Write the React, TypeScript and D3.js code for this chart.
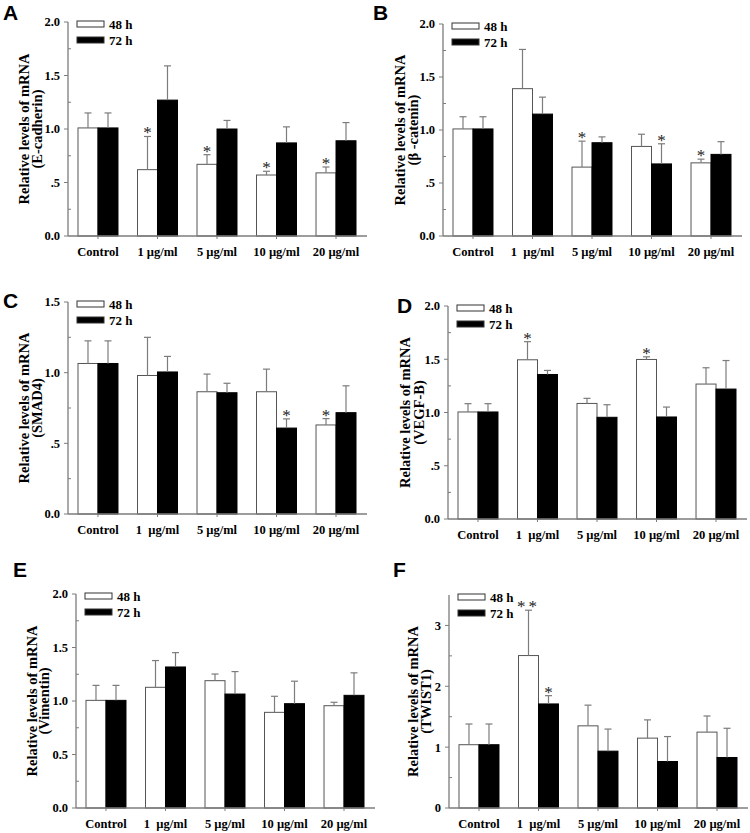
import React from 'react';
import * as d3 from 'd3';

// categories and series
const categoriesA = ['Control', '1 µg/ml', '5 µg/ml', '10 µg/ml', '20 µg/ml'];
const categoriesB = ['Control', '1\u00a0 µg/ml', '5 µg/ml', '10 µg/ml', '20 µg/ml'];
const seriesNames = ['48 h', '72 h'];

// A: E-cadherin
const eCad48 = [1.01, 0.62, 0.67, 0.57, 0.59];
const eCad48Err = [0.14, 0.31, 0.09, 0.035, 0.055];
const eCad72 = [1.01, 1.27, 1.0, 0.87, 0.89];
const eCad72Err = [0.14, 0.32, 0.08, 0.15, 0.17];
const eCad48Sig = ['', '*', '*', '*', '*'];
const eCad72Sig = ['', '', '', '', ''];

// B: beta-catenin
const bCat48 = [1.01, 1.39, 0.65, 0.845, 0.69];
const bCat48Err = [0.115, 0.37, 0.245, 0.115, 0.035];
const bCat72 = [1.01, 1.15, 0.88, 0.68, 0.77];
const bCat72Err = [0.115, 0.16, 0.055, 0.19, 0.12];
const bCat48Sig = ['', '', '*', '', '*'];
const bCat72Sig = ['', '', '', '*', ''];

// C: SMAD4
const smad48 = [1.065, 0.98, 0.865, 0.865, 0.63];
const smad48Err = [0.16, 0.27, 0.125, 0.16, 0.045];
const smad72 = [1.065, 1.005, 0.858, 0.608, 0.717];
const smad72Err = [0.16, 0.11, 0.067, 0.065, 0.19];
const smad48Sig = ['', '', '', '', '*'];
const smad72Sig = ['', '', '', '*', ''];

// D: VEGF-B
const vegf48 = [1.005, 1.495, 1.085, 1.498, 1.267];
const vegf48Err = [0.078, 0.17, 0.048, 0.025, 0.153];
const vegf72 = [1.005, 1.357, 0.955, 0.958, 1.22];
const vegf72Err = [0.078, 0.038, 0.118, 0.093, 0.268];
const vegf48Sig = ['', '*', '', '*', ''];
const vegf72Sig = ['', '', '', '', ''];

// E: Vimentin
const vim48 = [1.006, 1.128, 1.19, 0.894, 0.956];
const vim48Err = [0.14, 0.25, 0.062, 0.15, 0.032];
const vim72 = [1.006, 1.318, 1.065, 0.975, 1.053];
const vim72Err = [0.14, 0.134, 0.21, 0.21, 0.21];
const vim48Sig = ['', '', '', '', ''];
const vim72Sig = ['', '', '', '', ''];

// F: TWIST1
const twist48 = [1.04, 2.505, 1.35, 1.148, 1.247];
const twist48Err = [0.34, 0.745, 0.34, 0.3, 0.265];
const twist72 = [1.04, 1.71, 0.934, 0.764, 0.83];
const twist72Err = [0.34, 0.136, 0.363, 0.41, 0.48];
const twist48Sig = ['', '**', '', '', ''];
const twist72Sig = ['', '*', '', '', ''];

// y axis ticks
const ticks2 = [0, 0.5, 1, 1.5, 2];
const ticks2Labels = ['0.0', '.5', '1.0', '1.5', '2.0'];
const ticks2LabelsE = ['0.0', '0.5', '1.0', '1.5', '2.0'];
const minor2 = [0.25, 0.75, 1.25, 1.75];
const ticks15 = [0, 0.5, 1, 1.5];
const ticks15Labels = ['0.0', '.5', '1.0', '1.5'];
const minor15 = [0.25, 0.75, 1.25];
const ticks35 = [0, 1, 2, 3];
const ticks35Labels = ['0', '1', '2', '3'];
const minor35 = [0.5, 1.5, 2.5];

const SERIF = '"Liberation Serif", "Times New Roman", serif';
const SANS = '"Liberation Sans", Arial, sans-serif';
const GREY = '#7c7c7c';

interface PanelDef {
    letter: string;
    gene: string;
    cats: string[];
    v48: number[];
    e48: number[];
    v72: number[];
    e72: number[];
    s48: string[];
    s72: string[];
    yMax: number;
    ticks: number[];
    tickLabels: string[];
    minor: number[];
    // layout
    axisX: number;
    y0: number;
    yTop: number;
    letterX: number;
    letterY: number;
    lab1: number;
    lab2: number;
}

const panels: PanelDef[] = [
    {
        letter: 'A', gene: '(E-cadherin)', cats: categoriesA,
        v48: eCad48, e48: eCad48Err, v72: eCad72, e72: eCad72Err, s48: eCad48Sig, s72: eCad72Sig,
        yMax: 2, ticks: ticks2, tickLabels: ticks2Labels, minor: minor2,
        axisX: 68, y0: 236, yTop: 22, letterX: 3, letterY: 20, lab1: -39, lab2: -26,
    },
    {
        letter: 'B', gene: '(β -catenin)', cats: categoriesB,
        v48: bCat48, e48: bCat48Err, v72: bCat72, e72: bCat72Err, s48: bCat48Sig, s72: bCat72Sig,
        yMax: 2, ticks: ticks2, tickLabels: ticks2Labels, minor: minor2,
        axisX: 443, y0: 236, yTop: 24, letterX: 373, letterY: 20, lab1: -38, lab2: -25,
    },
    {
        letter: 'C', gene: '(SMAD4)', cats: categoriesB,
        v48: smad48, e48: smad48Err, v72: smad72, e72: smad72Err, s48: smad48Sig, s72: smad72Sig,
        yMax: 1.5, ticks: ticks15, tickLabels: ticks15Labels, minor: minor15,
        axisX: 68, y0: 514, yTop: 302, letterX: 3, letterY: 308, lab1: -39, lab2: -26,
    },
    {
        letter: 'D', gene: '(VEGF-B)', cats: categoriesB,
        v48: vegf48, e48: vegf48Err, v72: vegf72, e72: vegf72Err, s48: vegf48Sig, s72: vegf72Sig,
        yMax: 2, ticks: ticks2, tickLabels: ticks2Labels, minor: minor2,
        axisX: 448, y0: 519, yTop: 306, letterX: 397, letterY: 313, lab1: -38, lab2: -24,
    },
    {
        letter: 'E', gene: '(Vimentin)', cats: categoriesB,
        v48: vim48, e48: vim48Err, v72: vim72, e72: vim72Err, s48: vim48Sig, s72: vim72Sig,
        yMax: 2, ticks: ticks2, tickLabels: ticks2LabelsE, minor: minor2,
        axisX: 76, y0: 808, yTop: 594, letterX: 13, letterY: 577, lab1: -39, lab2: -27,
    },
    {
        letter: 'F', gene: '(TWIST1)', cats: categoriesB,
        v48: twist48, e48: twist48Err, v72: twist72, e72: twist72Err, s48: twist48Sig, s72: twist72Sig,
        yMax: 3.5, ticks: ticks35, tickLabels: ticks35Labels, minor: minor35,
        axisX: 449, y0: 808, yTop: 595, letterX: 393, letterY: 577, lab1: -31, lab2: -18,
    },
];

const Panel: React.FC<{ p: PanelDef }> = ({ p }) => {
    const y = d3.scaleLinear().domain([0, p.yMax]).range([p.y0, p.yTop]);
    const x = d3
        .scaleBand<string>()
        .domain(p.cats)
        .range([p.axisX, p.axisX + 298])
        .paddingInner(0.328)
        .paddingOuter(0.168);
    const xs = d3.scaleBand<string>().domain(seriesNames).range([0, x.bandwidth()]);
    const bw = xs.bandwidth();
    const cy = (p.y0 + p.yTop) / 2;

    const groups = [
        { name: '48 h', vals: p.v48, errs: p.e48, sigs: p.s48, fill: '#fff', stroke: '#555' },
        { name: '72 h', vals: p.v72, errs: p.e72, sigs: p.s72, fill: '#000', stroke: '#000' },
    ];

    return (
        <g>
            <text x={p.letterX} y={p.letterY} fontFamily={SANS} fontWeight="bold" fontSize={21}>
                {p.letter}
            </text>

            {/* bars */}
            {groups.map((s) =>
                p.cats.map((c, i) => {
                    const bx = (x(c) as number) + (xs(s.name) as number);
                    const top = y(s.vals[i]);
                    const cap = y(s.vals[i] + s.errs[i]);
                    const mx = bx + bw / 2;
                    return (
                        <g key={s.name + c}>
                            <rect x={bx} y={top} width={bw} height={p.y0 - top}
                                fill={s.fill} stroke={s.stroke} strokeWidth={1} />
                            <line x1={mx} x2={mx} y1={top} y2={cap} stroke={GREY} strokeWidth={1.2} />
                            <line x1={mx - 3.5} x2={mx + 3.5} y1={cap} y2={cap} stroke={GREY} strokeWidth={1.2} />
                            {s.sigs[i] && (
                                <text x={mx} y={cap + 2} textAnchor="middle" fontFamily={SERIF}
                                    fontSize={17} fill="#222" letterSpacing={s.sigs[i].length > 1 ? 3 : 0}>
                                    {s.sigs[i]}
                                </text>
                            )}
                        </g>
                    );
                })
            )}

            {/* axes */}
            <line x1={p.axisX} x2={p.axisX} y1={p.y0} y2={p.yTop} stroke={GREY} strokeWidth={1.3} />
            <line x1={p.axisX} x2={p.axisX + 299} y1={p.y0} y2={p.y0} stroke={GREY} strokeWidth={1.3} />
            {p.ticks.map((t, i) => (
                <g key={'t' + t}>
                    <line x1={p.axisX - 4} x2={p.axisX} y1={y(t)} y2={y(t)} stroke={GREY} strokeWidth={1} />
                    <text x={p.axisX - 8} y={y(t)} dy="0.35em" textAnchor="end" fontFamily={SERIF}
                        fontWeight="bold" fontSize={12.5}>
                        {p.tickLabels[i]}
                    </text>
                </g>
            ))}
            {p.minor.map((t) => (
                <line key={'m' + t} x1={p.axisX} x2={p.axisX + 3} y1={y(t)} y2={y(t)} stroke={GREY} strokeWidth={1} />
            ))}
            {p.cats.map((c) => {
                const cx = (x(c) as number) + x.bandwidth() / 2;
                return (
                    <g key={'x' + c}>
                        <line x1={cx} x2={cx} y1={p.y0} y2={p.y0 + 3} stroke={GREY} strokeWidth={1} />
                        <text x={cx} y={p.y0 + 20} textAnchor="middle" fontFamily={SERIF}
                            fontWeight="bold" fontSize={12.5} style={{ whiteSpace: 'pre' }}>
                            {c}
                        </text>
                    </g>
                );
            })}

            {/* y label */}
            <text transform={`translate(${p.axisX + p.lab1},${cy}) rotate(-90)`} textAnchor="middle"
                fontFamily={SERIF} fontWeight="bold" fontSize={14.5}>
                Relative levels of mRNA
            </text>
            <text transform={`translate(${p.axisX + p.lab2},${cy}) rotate(-90)`} textAnchor="middle"
                fontFamily={SERIF} fontWeight="bold" fontSize={14.5}>
                {p.gene}
            </text>

            {/* legend */}
            {groups.map((s, i) => (
                <g key={'l' + s.name}>
                    <rect x={p.axisX + 9} y={p.yTop - 1 + i * 16} width={27} height={6}
                        fill={s.fill} stroke="#333" strokeWidth={1} />
                    <text x={p.axisX + 41} y={p.yTop + 7 + i * 16} fontFamily={SERIF}
                        fontWeight="bold" fontSize={13}>
                        {s.name}
                    </text>
                </g>
            ))}
        </g>
    );
};

const App: React.FC = () => (
    <svg width={750} height={833} style={{ position: 'absolute', left: 0, top: 0, background: '#fff' }}>
        {panels.map((p) => (
            <Panel key={p.letter} p={p} />
        ))}
    </svg>
);

export default App;
